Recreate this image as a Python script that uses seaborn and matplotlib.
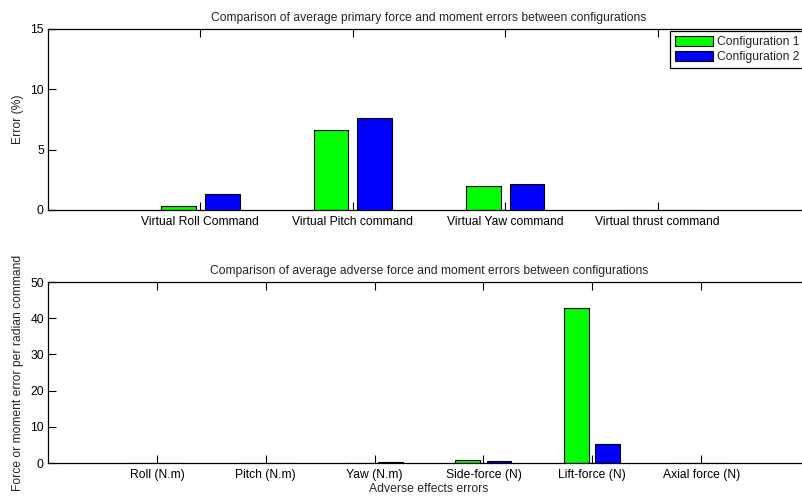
import matplotlib
matplotlib.use("Agg")
import matplotlib.pyplot as plt
import numpy as np
import pandas as pd
import seaborn as sns

# Primary force / moment errors (%)
primary_commands = ["Virtual Roll Command", "Virtual Pitch command",
                    "Virtual Yaw command", "Virtual thrust command"]
primary_config1 = [0.36, 6.62, 1.96, 0.0]
primary_config2 = [1.35, 7.60, 2.15, 0.03]

# Adverse force / moment errors per radian command
adverse_effects = ["Roll (N.m)", "Pitch (N.m)", "Yaw (N.m)",
                   "Side-force (N)", "Lift-force (N)", "Axial force (N)"]
adverse_config1 = [0.12, 0.10, 0.12, 0.75, 42.8, 0.08]
adverse_config2 = [0.10, 0.08, 0.38, 0.55, 5.2, 0.06]

config_names = ["Configuration 1", "Configuration 2"]
palette = {"Configuration 1": "#00ff00", "Configuration 2": "#0000ff"}

FS = 8.7


def long_table(cats, v1, v2):
    return pd.DataFrame({
        "cat": list(cats) * 2,
        "config": [config_names[0]] * len(cats) + [config_names[1]] * len(cats),
        "value": list(v1) + list(v2),
    })


sns.set_theme(style="white")
plt.rcParams["font.family"] = ["Liberation Sans", "DejaVu Sans"]
plt.rcParams["font.size"] = FS

fig = plt.figure(figsize=(8.03, 4.99), dpi=100)
ax1 = fig.add_axes([0.0598, 0.5792, 0.949, 0.3627])
ax2 = fig.add_axes([0.0598, 0.0721, 0.949, 0.3627])


def style_axes(ax, n, ylim, yticks):
    ax.set_xlim(-1, n)
    ax.set_ylim(*ylim)
    ax.set_yticks(yticks)
    ax.set_xticks(range(n))
    for sp in ax.spines.values():
        sp.set_visible(True)
        sp.set_color("black")
        sp.set_linewidth(0.9)
    ax.tick_params(axis="both", which="both", direction="in", length=5.5,
                   width=0.8, color="black", top=True, right=True,
                   bottom=True, left=True, labelsize=FS, pad=3,
                   labelcolor="black")
    ax.tick_params(axis="x", pad=4)
    ax.grid(False)


df1 = long_table(primary_commands, primary_config1, primary_config2)
sns.barplot(data=df1, x="cat", y="value", hue="config", palette=palette,
            width=0.572, gap=0.2, edgecolor="black", linewidth=0.8,
            saturation=1, ax=ax1, errorbar=None)
style_axes(ax1, len(primary_commands), (0, 15), [0, 5, 10, 15])
ax1.set_xlabel("")
ax1.set_ylabel("Error (%)", fontsize=FS)
ax1.yaxis.set_label_coords(-0.031, 0.5)
ax1.set_title("Comparison of average primary force and moment errors between configurations",
              fontsize=FS, pad=6)
ax1.get_legend().remove()
handles, labels = ax1.get_legend_handles_labels()
leg = fig.legend(handles, labels, loc="upper left",
                 bbox_to_anchor=(670 / 803, 1 - 31 / 499),
                 bbox_transform=fig.transFigure, frameon=True, fancybox=False,
                 edgecolor="black", framealpha=1, fontsize=FS,
                 handlelength=3.15, handleheight=0.95, handletextpad=0.33,
                 labelspacing=0.22, borderpad=0.38, borderaxespad=0)
leg.get_frame().set_linewidth(0.9)

df2 = long_table(adverse_effects, adverse_config1, adverse_config2)
sns.barplot(data=df2, x="cat", y="value", hue="config", palette=palette,
            width=0.572, gap=0.2, edgecolor="black", linewidth=0.8,
            saturation=1, ax=ax2, errorbar=None)
style_axes(ax2, len(adverse_effects), (0, 50), [0, 10, 20, 30, 40, 50])
ax2.set_xlabel("Adverse effects errors", fontsize=FS)
ax2.xaxis.set_label_coords(0.5, -0.11)
ax2.set_ylabel("Force or moment error per radian command", fontsize=FS)
ax2.yaxis.set_label_coords(-0.031, 0.5)
ax2.set_title("Comparison of average adverse force and moment errors between configurations",
              fontsize=FS, pad=6)
ax2.get_legend().remove()

fig.savefig("out.png", dpi=100)
